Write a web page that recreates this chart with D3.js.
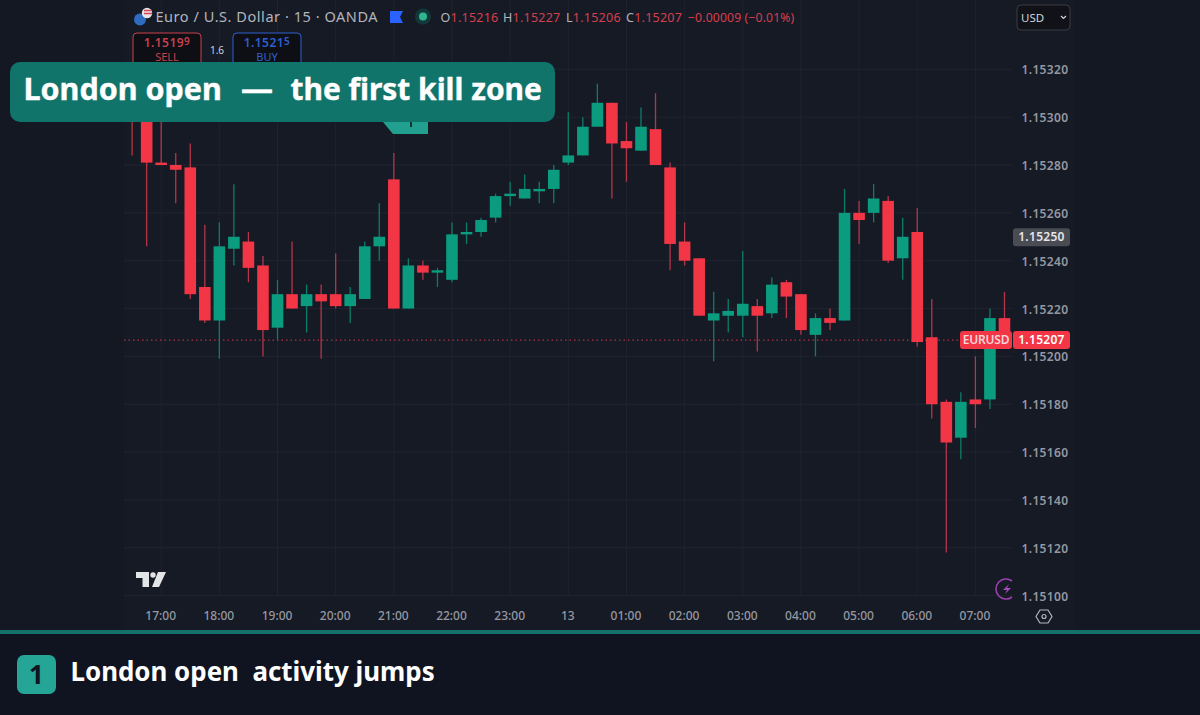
<!DOCTYPE html>
<html>
<head>
<meta charset="utf-8">
<script src="https://cdn.jsdelivr.net/npm/d3@7"></script>
<style>
html,body{margin:0;padding:0;background:#141823;}
svg{display:block;}
text{white-space:pre;font-family:"Noto Sans",sans-serif;}
</style>
</head>
<body>
<div id="chart"></div>
<script>
// 15 minute candles, index 0 is the 17:00 bar
var firstIndex = -2;
var opens = [1.15311,1.15301,1.15281,1.15280,1.15279,1.15229,1.15215,1.15245,1.15248,1.15238,1.15212,1.15226,1.15221,1.15226,1.15226,1.15221,
  1.15224,1.15246,1.15274,1.15220,1.15238,1.15235,1.15232,1.15251,1.15252,1.15258,1.15267,1.15266,1.15269,1.15270,1.15281,1.15284,
  1.15296,1.15306,1.15290,1.15286,1.15295,1.15279,1.15248,1.15241,1.15215,1.15217,1.15217,1.15221,1.15218,1.15231,1.15226,1.15209,
  1.15216,1.15215,1.15260,1.15260,1.15265,1.15241,1.15252,1.15208,1.15181,1.15166,1.15182,1.15182,1.15216];
var closes = [1.15301,1.15281,1.15280,1.15278,1.15226,1.15215,1.15246,1.15250,1.15237,1.15211,1.15226,1.15220,1.15226,1.15223,1.15221,1.15226,
  1.15246,1.15250,1.15220,1.15238,1.15235,1.15236,1.15251,1.15252,1.15257,1.15267,1.15268,1.15270,1.15270,1.15278,1.15284,1.15296,
  1.15306,1.15289,1.15287,1.15296,1.15280,1.15247,1.15240,1.15217,1.15218,1.15219,1.15222,1.15217,1.15230,1.15225,1.15211,1.15216,
  1.15214,1.15260,1.15257,1.15266,1.15240,1.15250,1.15206,1.15180,1.15164,1.15181,1.15180,1.15216,1.15207];
var highs = [1.15316,1.15307,1.15300,1.15285,1.15289,1.15255,1.15256,1.15272,1.15252,1.15242,1.15232,1.15248,1.15230,1.15230,1.15243,1.15229,
  1.15248,1.15264,1.15285,1.15241,1.15240,1.15237,1.15256,1.15256,1.15258,1.15268,1.15273,1.15276,1.15273,1.15280,1.15302,1.15300,
  1.15314,1.15306,1.15298,1.15304,1.15310,1.15281,1.15256,1.15241,1.15227,1.15224,1.15244,1.15224,1.15233,1.15232,1.15226,1.15218,
  1.15220,1.15270,1.15265,1.15272,1.15267,1.15258,1.15262,1.15224,1.15182,1.15185,1.15200,1.15220,1.15227];
var lows = [1.15284,1.15246,1.15280,1.15264,1.15224,1.15214,1.15199,1.15238,1.15231,1.15200,1.15207,1.15220,1.15210,1.15199,1.15220,1.15214,
  1.15224,1.15240,1.15220,1.15220,1.15232,1.15229,1.15231,1.15247,1.15250,1.15256,1.15263,1.15266,1.15264,1.15264,1.15280,1.15284,
  1.15296,1.15266,1.15273,1.15286,1.15280,1.15236,1.15238,1.15217,1.15198,1.15210,1.15208,1.15202,1.15216,1.15216,1.15209,1.15200,
  1.15211,1.15215,1.15247,1.15256,1.15239,1.15232,1.15204,1.15174,1.15118,1.15157,1.15170,1.15178,1.15206];

var priceTicks = [1.1532,1.153,1.1528,1.1526,1.1524,1.1522,1.152,1.1518,1.1516,1.1514,1.1512,1.151];
var timeLabels = ["17:00","18:00","19:00","20:00","21:00","22:00","23:00","13","01:00","02:00","03:00","04:00","05:00","06:00","07:00"];
var lastPrice = 1.15207;
var crossPrice = 1.1525;
var legendValues = [["O","1.15216"],["H","1.15227"],["L","1.15206"],["C","1.15207"]];

var width = 1200, height = 715;
var upColor = "#0b9c80", downColor = "#f23645";
var upWick = "#0c7d6b", downWick = "#b5354a";

var svg = d3.select("#chart").append("svg").attr("width",width).attr("height",height);

var y = d3.scaleLinear().domain([1.1528,1.151]).range([165,595.6]);
// one bar every 14.54 px, four bars to the hour
var x = d3.scaleLinear().domain([0,56]).range([161.2,975.4]);

var candles = opens.map(function(o,i){
  return {index:firstIndex+i, open:o, close:closes[i], high:highs[i], low:lows[i]};
});

// backgrounds
svg.append("rect").attr("width",width).attr("height",height).attr("fill","#141823");
svg.append("rect").attr("x",124).attr("width",951).attr("height",630).attr("fill","#161a25");
svg.append("rect").attr("y",630).attr("width",width).attr("height",85).attr("fill","#0f1420");
svg.append("rect").attr("y",630).attr("width",width).attr("height",4).attr("fill","#12716a");

// grid
svg.append("g").selectAll("line").data(priceTicks).join("line")
  .attr("x1",124).attr("x2",1012)
  .attr("y1",function(d){return y(d);}).attr("y2",function(d){return y(d);})
  .attr("stroke","#20242f").attr("stroke-width",1);
svg.append("g").selectAll("line").data(timeLabels).join("line")
  .attr("x1",function(d,i){return x(i*4);}).attr("x2",function(d,i){return x(i*4);})
  .attr("y1",0).attr("y2",596)
  .attr("stroke","#1f232e").attr("stroke-width",1);

// last price line
svg.append("line").attr("x1",124).attr("x2",962)
  .attr("y1",y(lastPrice)+0.5).attr("y2",y(lastPrice)+0.5)
  .attr("stroke","#d43a4c").attr("stroke-width",1).attr("stroke-dasharray","1.5 3");

// candles
var bodyWidth = 11.6;
var bars = svg.append("g").selectAll("g").data(candles).join("g");
bars.append("line")
  .attr("x1",function(d){return x(d.index);}).attr("x2",function(d){return x(d.index);})
  .attr("y1",function(d){return y(d.high);}).attr("y2",function(d){return y(d.low);})
  .attr("stroke",function(d){return d.close>=d.open?upWick:downWick;})
  .attr("stroke-width",1.3);
bars.append("rect")
  .attr("x",function(d){return x(d.index)-bodyWidth/2;})
  .attr("width",bodyWidth)
  .attr("y",function(d){return y(Math.max(d.open,d.close));})
  .attr("height",function(d){return Math.max(1.5,Math.abs(y(d.open)-y(d.close)));})
  .attr("fill",function(d){return d.close>=d.open?upColor:downColor;});

// price axis
var priceAxis = svg.append("g").attr("transform","translate(1021.5,0.7)")
  .call(d3.axisRight(y).tickValues(priceTicks).tickSize(0).tickPadding(0).tickFormat(d3.format(".5f")));
priceAxis.select(".domain").remove();
priceAxis.selectAll("text").attr("fill","#9598a1").style("font-size","12px").style("font-weight",600)
  .style("letter-spacing","0.35px").style("font-family",'"Noto Sans",sans-serif');

// time axis
var timeAxis = svg.append("g").attr("transform","translate(-1,611)")
  .call(d3.axisBottom(x).tickValues(timeLabels.map(function(d,i){return i*4;})).tickSize(0).tickPadding(0)
    .tickFormat(function(d){return timeLabels[d/4];}));
timeAxis.select(".domain").remove();
timeAxis.selectAll("text").attr("fill","#9598a1").style("font-size","12px").style("font-weight",500)
  .style("font-family",'"Noto Sans",sans-serif');

// price labels
function priceTag(price,x0,w,bg,label,fg,spacing){
  svg.append("rect").attr("x",x0).attr("y",y(price)-8.6).attr("width",w).attr("height",18).attr("rx",3).attr("fill",bg);
  svg.append("text").attr("x",x0+w/2).attr("y",y(price)+4.7).attr("text-anchor","middle")
    .attr("fill",fg).style("font-size","12px").style("font-weight",600).style("letter-spacing",spacing).text(label);
}
priceTag(crossPrice,1013,57,"#4a4c53",d3.format(".5f")(crossPrice),"#e6e7ea","0.3px");
priceTag(lastPrice,960,52,downColor,"EURUSD","#f8d5d9","-0.2px");
priceTag(lastPrice,1013,57,downColor,d3.format(".5f")(lastPrice),"#fff","0.3px");

// legend row
var flag = svg.append("g");
flag.append("circle").attr("cx",140).attr("cy",19.5).attr("r",6).attr("fill","#2d6cc0");
flag.append("circle").attr("cx",147).attr("cy",13).attr("r",5.2).attr("fill","#e4e4e8");
flag.append("path").attr("d","M144 10.5h8M144 13.5h8").attr("stroke","#d9434f").attr("stroke-width",1.3);
svg.append("text").attr("x",155.5).attr("y",22).attr("fill","#b2b5be").style("font-size","14.5px").style("letter-spacing","0.55px")
  .text("Euro / U.S. Dollar \u00b7 15 \u00b7 OANDA");
svg.append("path").attr("d","M390 11h13l-3 6l3 6h-13z").attr("fill","#2962ff");
svg.append("circle").attr("cx",423).attr("cy",16.5).attr("r",8).attr("fill","#12393a");
svg.append("circle").attr("cx",423).attr("cy",16.5).attr("r",4).attr("fill","#2fb58f");
var legendX = [440.5,503,566,626];
var legend = svg.append("text").attr("y",21.5).style("font-size","12.5px").style("letter-spacing","0.25px");
legendValues.forEach(function(d,i){
  legend.append("tspan").attr("x",legendX[i]).attr("fill","#b2b5be").text(d[0]);
  legend.append("tspan").attr("fill","#d63f4e").text(d[1]);
});
legend.append("tspan").attr("x",688).attr("fill","#d63f4e").style("font-size","12.2px").style("letter-spacing","0.15px")
  .text("\u22120.00009 (\u22120.01%)");

// sell and buy boxes
function tradeBox(x0,color,big,sup,label){
  svg.append("rect").attr("x",x0).attr("y",33).attr("width",68).attr("height",40).attr("rx",4)
    .attr("fill","#0e0f14").attr("stroke",color).attr("stroke-width",1);
  var t = svg.append("text").attr("x",x0+34).attr("y",47).attr("text-anchor","middle").attr("fill",color)
    .style("font-size","12px").style("font-weight",600).style("letter-spacing","0.45px");
  t.append("tspan").text(big);
  t.append("tspan").attr("dy",-2).style("font-size","10px").text(sup);
  svg.append("text").attr("x",x0+34).attr("y",61).attr("text-anchor","middle").attr("fill",color)
    .style("font-size","11px").text(label);
}
tradeBox(133,"#c9404c","1.1519","9","SELL");
tradeBox(233,"#2f5fd0","1.1521","5","BUY");
svg.append("text").attr("x",217).attr("y",54).attr("text-anchor","middle").attr("fill","#d1d4dc").style("font-size","10px").text("1.6");

// currency box
svg.append("rect").attr("x",1017).attr("y",5).attr("width",53).attr("height",25).attr("rx",4)
  .attr("fill","#101217").attr("stroke","#3a3d45");
svg.append("text").attr("x",1021).attr("y",22).attr("fill","#d1d4dc").style("font-size","11.5px").text("USD");
svg.append("path").attr("d","M1061 16l2.5 2.5l2.5-2.5").attr("fill","none").attr("stroke","#d1d4dc").attr("stroke-width",1.2);

// tradingview logo
svg.append("path").attr("d","M136 572h13v15h-6.5v-9h-6.5zM158 572h8l-7 15h-7z").attr("fill","#e3e4e6");
svg.append("circle").attr("cx",153).attr("cy",575).attr("r",2.7).attr("fill","#e3e4e6");

// bolt and settings icons
svg.append("path").attr("d","M1012 581a10 10 0 1 0 0 16").attr("fill","none").attr("stroke","#9c3fb0").attr("stroke-width",1.6);
svg.append("path").attr("d","M1009 584l-6 6h4l-2 4l6-6h-4z").attr("fill","#a548bd");
svg.append("path").attr("d","M1040 610h8l4 6.5l-4 6.5h-8l-4-6.5z").attr("fill","none").attr("stroke","#b2b5be").attr("stroke-width",1.2);
svg.append("circle").attr("cx",1044).attr("cy",616.5).attr("r",2).attr("fill","none").attr("stroke","#b2b5be").attr("stroke-width",1.2);

// covered marker under the banner
svg.append("path").attr("d","M383 122h45v12h-35z").attr("fill","#22a08f");
svg.append("rect").attr("x",410).attr("y",122).attr("width",2).attr("height",5).attr("fill","#11352f");

// banner
svg.append("rect").attr("x",10).attr("y",62).attr("width",545).attr("height",60).attr("rx",10).attr("fill","#11746b");
var banner = svg.append("text").attr("y",100).attr("fill","#fff").attr("stroke","#fff").attr("stroke-width",0.4)
  .style("font-size","30.5px").style("font-weight",700);
banner.append("tspan").attr("x",23.5).text("London open");
banner.append("tspan").attr("x",241).style("font-size","32px").text("\u2014");
banner.append("tspan").attr("x",290.5).style("font-size","29.9px").text("the first kill zone");

// footer
svg.append("rect").attr("x",17).attr("y",655).attr("width",39).attr("height",39).attr("rx",7).attr("fill","#25a596");
svg.append("text").attr("x",36.5).attr("y",684).attr("text-anchor","middle").attr("fill","#0f1420").style("font-size","26px").style("font-weight",700).text("1");
svg.append("text").attr("x",70.5).attr("y",681).attr("fill","#fff").style("font-size","25.9px").style("font-weight",700)
  .text("London open  activity jumps");
</script>
</body>
</html>
